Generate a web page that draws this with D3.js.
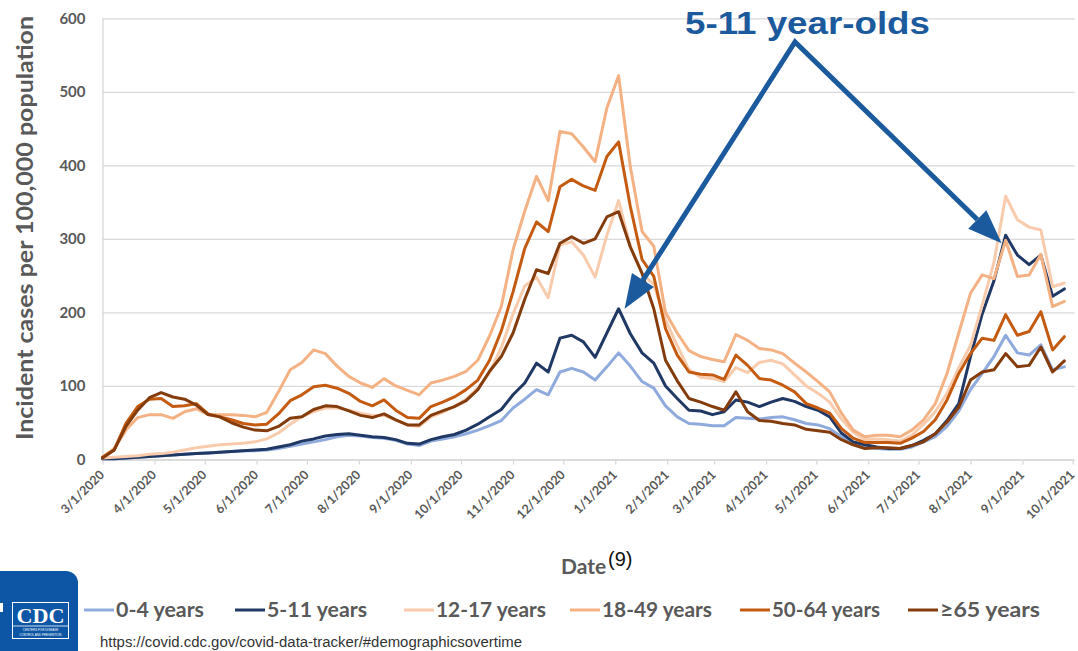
<!DOCTYPE html>
<html>
<head>
<meta charset="utf-8">
<script src="https://cdn.jsdelivr.net/npm/d3@7"></script>
<style>
  body { margin: 0; background: #fff; }
  svg { display: block; }
</style>
</head>
<body>
<div id="container"></div>
<script>
var width = 1078,
    height = 651;

// ---- data (weekly incidence per 100,000) ----
var seriesNames = ["0-4 years", "5-11 years", "12-17 years", "18-49 years", "50-64 years", "\u226565 years"];
var firstWeek = "3/1/2020";
var tickLabels = ["3/1/2020", "4/1/2020", "5/1/2020", "6/1/2020", "7/1/2020", "8/1/2020", "9/1/2020",
                  "10/1/2020", "11/1/2020", "12/1/2020", "1/1/2021", "2/1/2021", "3/1/2021", "4/1/2021",
                  "5/1/2021", "6/1/2021", "7/1/2021", "8/1/2021", "9/1/2021", "10/1/2021"];
var yTicks = [0, 100, 200, 300, 400, 500, 600];

var age0to4 = [1, 1, 2, 3, 4, 5, 6, 7, 8, 9,
               10, 11, 12, 12, 13, 15, 18, 21, 24, 27,
               31, 33, 32, 30, 29, 26, 21, 19, 25, 28,
               31, 35, 40, 46, 53, 70, 82, 95, 88, 119,
               124, 119, 108, 126, 145, 127, 106, 97, 73, 58,
               49, 48, 46, 46, 57, 56, 55, 57, 58, 54,
               49, 47, 42, 31, 23, 18, 15, 14, 14, 17,
               24, 31, 45, 66, 95, 117, 140, 169, 145, 142,
               156, 122, 126];
var age5to11 = [1, 1, 2, 3, 4, 5, 6, 7, 8, 9,
                10, 11, 12, 13, 14, 17, 20, 25, 28, 32,
                34, 35, 33, 31, 30, 27, 22, 21, 27, 31,
                34, 40, 48, 58, 68, 88, 104, 131, 119, 165,
                169, 160, 139, 172, 205, 171, 145, 131, 100, 83,
                67, 66, 61, 65, 81, 78, 72, 78, 83, 79,
                72, 67, 58, 36, 24, 20, 17, 15, 15, 19,
                26, 35, 53, 76, 140, 198, 243, 305, 278, 265,
                278, 222, 232];
var age12to17 = [2, 3, 4, 5, 7, 8, 10, 13, 16, 18,
                 20, 21, 22, 24, 28, 36, 48, 58, 65, 70,
                 70, 67, 63, 60, 60, 54, 47, 45, 58, 64,
                 72, 82, 97, 118, 152, 198, 236, 248, 220, 292,
                 296, 278, 248, 305, 352, 290, 253, 238, 190, 155,
                 122, 112, 110, 106, 125, 118, 132, 135, 130, 115,
                 100, 90, 78, 55, 37, 27, 28, 27, 25, 33,
                 48, 65, 90, 125, 155, 210, 268, 358, 326, 316,
                 312, 235, 240];
var age18to49 = [3, 15, 40, 57, 61, 61, 56, 65, 69, 61,
                 61, 61, 60, 58, 64, 92, 122, 132, 149, 144,
                 127, 113, 104, 98, 110, 100, 94, 88, 104, 108,
                 113, 120, 135, 168, 208, 285, 338, 385, 352, 446,
                 443, 425, 405, 478, 522, 398, 310, 290, 200, 172,
                 148, 140, 136, 133, 170, 162, 151, 149, 144, 131,
                 119, 106, 92, 63, 40, 31, 33, 33, 31, 40,
                 54, 76, 117, 172, 226, 251, 246, 298, 249, 251,
                 279, 208, 215];
var age50to64 = [3, 13, 49, 72, 82, 83, 72, 73, 76, 62,
                 58, 54, 49, 47, 48, 62, 80, 88, 99, 101,
                 97, 90, 79, 73, 81, 67, 57, 56, 72, 78,
                 85, 95, 108, 135, 175, 228, 287, 323, 310, 371,
                 381, 372, 366, 412, 432, 344, 272, 249, 178, 142,
                 119, 116, 115, 109, 142, 128, 110, 108, 101, 92,
                 76, 70, 63, 42, 29, 23, 23, 23, 22, 29,
                 38, 54, 81, 117, 144, 165, 162, 197, 169, 174,
                 201, 149, 167];
var age65plus = [2, 13, 45, 67, 84, 91, 85, 82, 74, 61,
                 58, 50, 44, 40, 39, 45, 56, 58, 68, 73,
                 72, 66, 60, 57, 62, 54, 47, 47, 60, 66,
                 72, 80, 95, 120, 140, 172, 218, 258, 253, 294,
                 303, 294, 300, 330, 337, 289, 253, 205, 135, 107,
                 83, 78, 72, 67, 92, 65, 53, 52, 49, 47,
                 41, 39, 37, 27, 20, 15, 16, 16, 15, 19,
                 24, 35, 51, 71, 108, 119, 122, 144, 126, 128,
                 153, 119, 134];

var seriesValues = [age0to4, age5to11, age12to17, age18to49, age50to64, age65plus];

// ---- styles ----
var seriesColors = ["#8FAADC", "#203864", "#F8CBAD", "#F4B183", "#C55A11", "#843C0C"];
var gray = "#595959",
    gridGray = "#D9D9D9",
    annBlue = "#1B5A9C";

var parseDate = d3.timeParse("%m/%d/%Y");
var weekDates = age0to4.map(function(d, i) { return d3.timeDay.offset(parseDate(firstWeek), 7 * i); });
var tickDates = tickLabels.map(parseDate);

var svg = d3.select("#container")
            .append("svg")
            .attr("width", width)
            .attr("height", height)
            .style("background", "#fff");

var plotLeft = 102.5,
    plotRight = 1072.7,
    plotBottom = 459.5,
    plotTop = 18.3;

var x = d3.scaleTime()
          .domain([tickDates[0], tickDates[tickDates.length - 1]])
          .range([plotLeft, plotRight]);

var y = d3.scaleLinear()
          .domain([0, 600])
          .range([plotBottom, plotTop]);

// gridlines + y labels
var yAxis = d3.axisLeft(y)
              .tickValues(yTicks)
              .tickSize(-(plotRight + 2 - plotLeft))
              .tickSizeOuter(0)
              .tickPadding(17);

var gy = svg.append("g")
            .attr("transform", "translate(" + plotLeft + ",0)")
            .call(yAxis);
gy.select(".domain").attr("stroke", gridGray).attr("stroke-width", 1.3);
gy.selectAll(".tick line").attr("stroke", gridGray).attr("stroke-width", 1.3);
gy.selectAll(".tick text")
  .attr("fill", gray)
  .style("font-family", "Lato, sans-serif")
  .style("font-weight", "bold")
  .style("font-size", "15px");

// x axis
var xAxis = d3.axisBottom(x)
              .tickValues(tickDates)
              .tickSize(5)
              .tickSizeOuter(0)
              .tickFormat(function(d, i) { return tickLabels[i]; });

var gx = svg.append("g")
            .attr("transform", "translate(0," + plotBottom + ")")
            .call(xAxis);
gx.select(".domain").attr("stroke", gridGray).attr("stroke-width", 1.3);
gx.selectAll(".tick line").attr("stroke", gridGray).attr("stroke-width", 1.3);
gx.selectAll(".tick text")
  .attr("y", 0)
  .attr("dy", "0.35em")
  .attr("transform", "translate(-1,13) rotate(-45)")
  .attr("text-anchor", "end")
  .attr("fill", gray)
  .style("font-family", "Lato, sans-serif")
  .style("font-weight", "bold")
  .style("font-size", "12.5px");

// series lines
var line = d3.line()
             .x(function(d, i) { return x(weekDates[i]); })
             .y(function(d) { return y(d); });

svg.append("g").attr("id", "series")
   .selectAll(".series")
   .data(seriesValues)
   .enter().append("path")
   .attr("class", "series")
   .attr("d", line)
   .attr("fill", "none")
   .attr("stroke", function(d, i) { return seriesColors[i]; })
   .attr("stroke-width", 3)
   .attr("stroke-linejoin", "round")
   .attr("stroke-linecap", "round");

// axis titles
svg.append("text")
   .attr("transform", "translate(33,228) rotate(-90)")
   .attr("text-anchor", "middle")
   .attr("fill", gray)
   .attr("textLength", 424)
   .attr("lengthAdjust", "spacingAndGlyphs")
   .style("font", "bold 23px Lato, sans-serif")
   .text("Incident cases per 100,000 population");

svg.append("text")
   .attr("x", 561).attr("y", 573.5)
   .attr("fill", gray)
   .style("font", "bold 21px Lato, sans-serif")
   .text("Date");

svg.append("text")
   .attr("x", 608).attr("y", 566)
   .attr("fill", "#111")
   .style("font", "20px 'Liberation Sans', Arial, sans-serif")
   .text("(9)");

// legend
var legendX = [84, 235, 404, 570, 740, 908],
    legendW = [88, 100, 110, 110, 108, 100];
var legend = svg.append("g").attr("id", "legend");
seriesNames.forEach(function(name, i) {
  var g = legend.append("g").attr("transform", "translate(" + legendX[i] + ",610)");
  g.append("line")
   .attr("x1", 0).attr("x2", 30)
   .attr("stroke", seriesColors[i])
   .attr("stroke-width", 3);
  g.append("text")
   .attr("x", 32).attr("y", 7)
   .attr("fill", gray)
   .attr("textLength", legendW[i])
   .attr("lengthAdjust", "spacingAndGlyphs")
   .style("font", "bold 21px Lato, sans-serif")
   .text(name);
});

// annotation
svg.append("text")
   .attr("x", 685).attr("y", 33.5)
   .attr("fill", annBlue)
   .attr("textLength", 245)
   .attr("lengthAdjust", "spacingAndGlyphs")
   .style("font", "bold 31px 'Liberation Sans', Arial, sans-serif")
   .text("5-11 year-olds");

var apex = [795, 42];
var peakA = 44, peakB = 77;
var tipA = [x(weekDates[peakA]) + 6, y(age5to11[peakA])];
var tipB = [x(weekDates[peakB]) - 4, y(age5to11[peakB]) + 8];

function headBase(tip, L) {
  var a = Math.atan2(tip[1] - apex[1], tip[0] - apex[0]);
  return [tip[0] - L * Math.cos(a), tip[1] - L * Math.sin(a), a];
}
var bA = headBase(tipA, 34), bB = headBase(tipB, 34);

svg.append("path")
   .attr("d", "M" + bA[0] + "," + bA[1] + "L" + apex[0] + "," + apex[1] + "L" + bB[0] + "," + bB[1])
   .attr("fill", "none")
   .attr("stroke", annBlue)
   .attr("stroke-width", 5)
   .attr("stroke-linejoin", "miter");

[[tipA, bA], [tipB, bB]].forEach(function(p) {
  var tip = p[0], b = p[1], a = b[2], w = 13;
  var c1 = [b[0] + w * Math.sin(a), b[1] - w * Math.cos(a)],
      c2 = [b[0] - w * Math.sin(a), b[1] + w * Math.cos(a)];
  svg.append("path")
     .attr("d", "M" + tip + "L" + c1 + "L" + c2 + "Z")
     .attr("fill", annBlue);
});

// source
svg.append("text")
   .attr("x", 100).attr("y", 647)
   .attr("fill", "#333")
   .attr("textLength", 422)
   .attr("lengthAdjust", "spacingAndGlyphs")
   .style("font", "14px 'Liberation Sans', Arial, sans-serif")
   .text("https://covid.cdc.gov/covid-data-tracker/#demographicsovertime");

// CDC logo
var logo = svg.append("g").attr("id", "logo");
logo.append("rect")
    .attr("x", -15).attr("y", 571)
    .attr("width", 93).attr("height", 100)
    .attr("rx", 12)
    .attr("fill", "#0D56A6");
logo.append("rect")
    .attr("x", 12.5).attr("y", 602.5)
    .attr("width", 56).attr("height", 36)
    .attr("fill", "none")
    .attr("stroke", "#fff")
    .attr("stroke-width", 1);
logo.append("line")
    .attr("x1", 12.5).attr("x2", 68.5)
    .attr("y1", 626).attr("y2", 626)
    .attr("stroke", "#fff").attr("stroke-width", 0.8);
logo.append("text")
    .attr("x", 40.5).attr("y", 622.5)
    .attr("text-anchor", "middle")
    .attr("fill", "#fff")
    .attr("textLength", 48)
    .attr("lengthAdjust", "spacingAndGlyphs")
    .style("font", "bold 21px 'Liberation Serif', 'DejaVu Serif', serif")
    .text("CDC");
logo.append("text")
    .attr("x", 40.5).attr("y", 631)
    .attr("text-anchor", "middle")
    .attr("fill", "#fff")
    .style("font", "3px 'Liberation Sans', sans-serif")
    .text("CENTERS FOR DISEASE");
logo.append("text")
    .attr("x", 40.5).attr("y", 635.5)
    .attr("text-anchor", "middle")
    .attr("fill", "#fff")
    .style("font", "3px 'Liberation Sans', sans-serif")
    .text("CONTROL AND PREVENTION");
logo.append("rect")
    .attr("x", 0).attr("y", 603)
    .attr("width", 3).attr("height", 9)
    .attr("fill", "#fff");
</script>
</body>
</html>
